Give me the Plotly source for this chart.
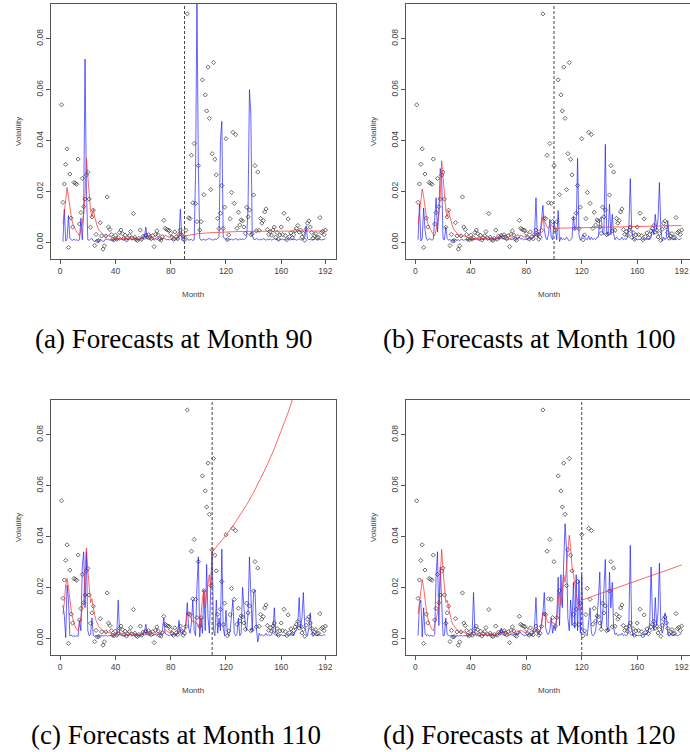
import plotly.graph_objects as go

# ---------------- data ----------------
months = list(range(1, 193))

# observed volatility (black diamonds), months 1..192
observed = [
    0.0540, 0.0157, 0.0229, 0.0306, 0.0367, -0.0020, 0.0268, 0.0095, 0.0060, 0.0235,
    0.0232, 0.0228, 0.0327, 0.0072, 0.0117, 0.0251, 0.0140, 0.0170, 0.0264, 0.0275,
    0.0170, 0.0059, 0.0100, 0.0126, -0.0013, 0.0031, 0.0005, 0.0007, 0.0077, 0.0025,
    -0.0027, -0.0014, 0.0025, 0.0178, 0.0060, 0.0050, 0.0030, 0.0012, 0.0010, 0.0028,
    0.0012, 0.0018, 0.0038, 0.0048, 0.0034, 0.0015, 0.0028, 0.0009, 0.0018, 0.0026,
    0.0042, 0.0016, 0.0113, 0.0020, 0.0010, 0.0007, 0.0015, 0.0048, 0.0012, 0.0024,
    0.0020, 0.0028, 0.0020, 0.0030, 0.0022, 0.0014, 0.0026, -0.0017, 0.0031, 0.0045,
    0.0029, 0.0012, 0.0008, 0.0022, 0.0086, 0.0055, 0.0051, 0.0048, 0.0046, 0.0035,
    0.0020, 0.0012, 0.0041, 0.0022, 0.0014, 0.0031, 0.0048, 0.0030, 0.0012, 0.0020,
    0.0047, 0.0897, 0.0096, 0.0093, 0.0342, 0.0155, 0.0388, 0.0153, 0.0081, 0.0301,
    0.0048, 0.0081, 0.0638, 0.0187, 0.0579, 0.0516, 0.0688, 0.0487, 0.0207, 0.0348,
    0.0706, 0.0326, 0.0265, 0.0094, 0.0054, 0.0114, 0.0223, 0.0054, 0.0138, 0.0407,
    0.0010, 0.0029, 0.0093, 0.0196, 0.0432, 0.0153, 0.0423, 0.0055, 0.0118, 0.0068,
    0.0088, 0.0084, 0.0060, 0.0035, 0.0138, 0.0100, 0.0127, 0.0030, 0.0033, 0.0186,
    0.0301, 0.0045, 0.0276, 0.0047, 0.0094, 0.0075, 0.0085, 0.0119, 0.0131, 0.0050,
    0.0031, 0.0042, 0.0028, 0.0048, 0.0060, 0.0020, 0.0038, 0.0012, 0.0029, 0.0060,
    0.0030, 0.0114, 0.0026, 0.0010, 0.0092, 0.0022, 0.0037, 0.0018, 0.0030, 0.0045,
    0.0055, 0.0066, 0.0040, 0.0048, 0.0021, 0.0035, 0.0008, 0.0051, 0.0075, 0.0084,
    0.0060, 0.0039, 0.0016, 0.0025, 0.0034, 0.0018, 0.0020, 0.0097, 0.0038, 0.0043,
    0.0030, 0.0048,
]

# blue model paths (in units of 0.001), months 2..192
blue_start = 2
blue_a_milli = [
    0.2, 13.0, 0.5, 1.2, 10.5, 1.5, 1.0, 0.8, 1.2, 0.8,
    1.0, 0.7, 1.0, 9.5, 1.0, 12.0, 72.0, 21.0, 1.0, 0.8,
    1.2, 1.5, 0.6, 0.3, 1.0, 0.5, 0.4, 1.2, 0.8, 0.3,
    0.5, 1.5, 1.0, 1.2, 0.8, 1.0, 0.9, 1.1, 1.0, 1.2,
    1.4, 0.9, 1.3, 1.0, 1.1, 1.4, 0.8, 1.2, 1.0, 1.5,
    1.0, 1.3, 1.1, 0.9, 1.2, 1.0, 1.4, 1.1, 1.5, 2.0,
    6.0, 1.5, 1.2, 1.0, 1.4, 1.1, 0.9, 1.3, 1.2, 1.5,
    1.0, 1.2, 1.1, 1.6, 1.3, 1.0, 1.2, 0.9, 1.1, 1.3,
    1.0, 0.8, 1.0, 1.2, 2.0, 13.0, 2.0, 0.8, 0.5, 0.6,
    1.5, 0.8, 1.0, 1.2, 0.7, 1.0, 27.0, 96.0, 30.0, 1.5,
    0.8, 1.0, 1.2, 0.8, 1.0, 1.1, 1.5, 1.2, 0.9, 1.0,
    1.3, 1.1, 1.4, 2.0, 40.0, 47.5, 2.0, 1.5, 1.0, 0.8,
    1.5, 1.0, 1.2, 0.9, 1.1, 1.5, 1.2, 0.8, 1.4, 1.0,
    1.3, 1.1, 1.5, 2.0, 14.0, 60.0, 50.0, 3.0, 1.2, 1.0,
    1.5, 1.1, 0.9, 1.2, 1.0, 1.4, 1.1, 0.8, 1.2, 1.0,
    1.3, 0.9, 1.1, 1.4, 1.0, 1.2, 0.8, 1.1, 1.0, 1.3,
    0.9, 1.2, 1.0, 1.4, 1.1, 0.9, 1.3, 1.0, 1.2, 0.8,
    1.1, 1.3, 1.0, 0.9, 1.2, 2.0, 6.5, 1.5, 1.0, 1.2,
    0.9, 1.1, 1.0, 1.3, 0.8, 1.0, 1.2, 0.9, 1.1, 1.0,
    1.3,
]
blue_b_milli = [
    1.0, 15.0, 0.5, 1.5, 13.5, 5.0, 1.2, 0.8, 1.5, 1.0,
    0.8, 1.2, 12.0, 17.5, 4.0, 12.0, 29.0, 26.0, 1.3, 1.0,
    6.0, 1.5, 0.8, 1.2, 0.6, 1.0, 0.5, 1.2, 0.8, 1.0,
    0.6, 1.2, 1.0, 0.8, 1.1, 0.9, 1.2, 1.0, 1.3, 0.9,
    1.5, 1.1, 1.0, 1.3, 0.8, 1.2, 1.0, 1.4, 1.1, 1.6,
    1.2, 1.0, 1.3, 0.9, 1.2, 1.5, 1.1, 1.4, 1.2, 2.0,
    2.5, 1.5, 1.2, 1.0, 1.3, 1.1, 1.4, 1.0, 1.2, 1.6,
    1.1, 1.3, 1.5, 2.0, 1.2, 1.5, 1.0, 1.3, 1.1, 1.2,
    1.5, 1.0, 1.4, 1.8, 3.0, 17.5, 2.0, 4.0, 3.0, 8.0,
    14.5, 5.0, 2.0, 1.0, 3.0, 9.0, 2.0, 1.0, 8.0, 5.0,
    1.0, 12.5, 0.3, 2.0, 1.0, 1.5, 1.0, 2.0, 1.0, 0.5,
    1.0, 1.5, 10.0, 5.0, 6.0, 33.0, 3.0, 0.8, 2.0, 3.0,
    2.0, 1.5, 1.0, 2.5, 1.0, 2.0, 1.0, 1.5, 1.0, 2.0,
    2.0, 9.0, 10.0, 4.0, 3.0, 38.5, 4.0, 3.0, 15.0, 3.0,
    11.0, 3.0, 1.0, 2.0, 1.5, 1.0, 1.2, 2.0, 1.0, 1.5,
    1.0, 2.0, 6.0, 25.0, 5.0, 2.0, 1.0, 1.5, 1.0, 1.2,
    1.0, 1.5, 1.0, 1.3, 1.0, 1.2, 1.5, 1.0, 2.0, 5.0,
    3.0, 11.0, 5.0, 9.0, 23.5, 6.0, 0.5, 2.0, 1.0, 2.0,
    8.5, 2.0, 1.0, 1.5, 1.0, 1.2, 1.0, 1.5, 1.0, 1.3,
    1.5,
]
blue_c_milli = [
    13.0, 9.0, 0.3, 21.0, 15.0, 1.0, 1.2, 0.8, 1.0, 0.7,
    1.0, 0.8, 7.0, 3.0, 28.0, 34.0, 12.0, 34.0, 3.0, 1.0,
    1.5, 8.0, 1.0, 0.8, 1.2, 0.6, 1.0, 0.7, 1.2, 0.9,
    1.0, 1.2, 0.8, 1.1, 0.9, 1.3, 1.0, 1.2, 1.5, 2.0,
    15.0, 2.0, 1.0, 1.3, 1.1, 0.9, 1.4, 1.0, 1.2, 1.5,
    1.1, 1.3, 1.0, 1.2, 1.5, 1.1, 1.3, 1.0, 1.6, 2.5,
    5.5, 2.0, 1.2, 1.0, 1.4, 1.1, 1.3, 1.5, 1.2, 1.8,
    1.3, 2.0, 3.0, 8.0, 2.0, 1.5, 1.2, 1.0, 1.4, 1.1,
    1.5, 1.2, 1.0, 2.0, 7.0, 2.0, 1.5, 3.0, 2.5, 6.0,
    14.0, 4.0, 2.0, 6.0, 15.0, 3.0, 1.0, 20.0, 32.0, 0.5,
    8.0, 2.0, 19.0, 3.0, 29.0, 8.0, 2.0, 20.0, 34.0, 3.0,
    1.0, 15.0, 2.0, 8.0, 3.0, 35.0, 4.0, 1.0, 11.0, 2.0,
    1.0, 3.0, 8.0, 15.0, 2.0, 1.0, 1.5, 8.0, 1.0, 2.0,
    20.0, 13.0, 5.0, 3.0, 10.0, 32.0, 20.0, 3.0, 18.0, 19.0,
    4.0, -1.5, 2.0, 1.0, 1.5, 1.0, 1.2, 2.0, 1.0, 1.5,
    1.0, 1.3, 3.0, 12.0, 2.0, 1.0, 1.2, 1.0, 1.5, 1.0,
    1.2, 1.0, 1.4, 1.0, 1.1, 1.3, 2.0, 1.0, 2.5, 3.0,
    6.0, 16.0, 4.0, 8.0, 18.0, 5.0, 2.0, 1.0, 4.0, 10.0,
    3.0, 1.0, 1.5, 1.0, 1.2, 1.0, 1.4, 1.0, 1.2, 1.5,
    1.0,
]
blue_d_milli = [
    1.0, 13.0, 15.0, 0.5, 12.0, 2.0, 1.0, 1.5, 0.8, 1.2,
    1.0, 0.8, 1.5, 25.0, 34.0, 5.0, 28.0, 14.0, 1.0, 1.2,
    8.0, 1.5, 1.0, 0.8, 1.2, 0.6, 1.0, 0.7, 1.2, 0.9,
    1.0, 1.2, 0.8, 1.1, 0.9, 1.3, 1.0, 1.2, 1.5, 2.0,
    18.0, 2.0, 1.0, 1.3, 1.1, 0.9, 1.4, 1.0, 1.2, 1.5,
    1.1, 1.3, 1.0, 1.2, 1.5, 1.1, 1.3, 1.0, 1.6, 2.0,
    4.0, 2.0, 1.2, 1.0, 1.4, 1.1, 1.3, 1.5, 1.2, 1.8,
    1.3, 2.0, 1.5, 3.0, 2.0, 1.5, 1.2, 1.0, 1.4, 1.1,
    1.5, 1.2, 1.0, 2.0, 5.0, 16.0, 2.0, 1.5, 3.0, 6.0,
    10.0, 18.0, 4.0, 2.0, 1.5, 3.0, 8.0, 2.0, 5.0, 3.0,
    8.0, 24.0, 5.0, 25.0, 12.0, 30.0, 45.0, 35.0, 8.0, 3.0,
    15.0, 5.0, 22.0, 4.0, 25.0, 3.0, 23.0, 2.0, 25.0, 3.0,
    2.0, 1.5, 1.0, 6.0, 12.0, 2.0, 1.0, 1.5, 3.0, 8.0,
    15.0, 26.0, 4.0, 8.0, 20.0, 31.0, 5.0, 3.0, 26.0, 12.0,
    22.0, 4.0, 1.5, 2.0, 1.0, 1.5, 1.2, 2.0, 1.0, 1.5,
    1.0, 1.3, 6.0, 36.5, 4.0, 1.0, 1.5, 1.0, 1.2, 1.0,
    1.3, 1.0, 1.5, 1.2, 2.0, 1.5, 3.0, 6.0, 28.0, 8.0,
    3.0, 16.0, 5.0, 10.0, 29.5, 6.0, 2.0, 4.0, 10.0, 8.0,
    2.0, 1.0, 1.5, 1.2, 1.0, 1.5, 1.3, 1.0, 1.2, 1.5,
    2.0,
]

# red fitted values (units of 0.001), months 2..origin
red_start = 2
red_fit_a_milli = [
    7.0, 12.0, 18.0, 21.5, 18.0, 13.0, 10.0, 7.5, 6.0, 5.0,
    4.0, 3.0, 2.5, 5.0, 8.0, 11.0, 18.0, 33.0, 26.0, 17.0,
    12.5, 10.0, 13.0, 10.0, 7.5, 6.0, 4.8, 4.2, 3.6, 3.0,
    2.6, 2.4, 2.5, 2.6, 2.3, 2.1, 1.8, 1.6, 1.5, 1.5,
    1.4, 1.5, 1.7, 1.8, 1.6, 1.5, 1.4, 1.3, 1.4, 1.5,
    1.4, 2.0, 1.8, 1.5, 1.4, 1.3, 1.6, 1.5, 2.2, 2.8,
    3.2, 2.5, 2.0, 2.3, 2.0, 1.7, 1.5, 1.6, 1.9, 2.2,
    1.9, 1.6, 1.5, 2.2, 2.8, 2.5, 2.3, 2.0, 2.8, 2.2,
    1.8, 2.0, 1.7, 1.9, 2.8, 3.8, 3.2, 2.7, 2.5,
]
red_fit_b_milli = [
    7.0, 12.0, 18.0, 21.0, 18.0, 13.0, 10.0, 7.5, 6.0, 5.0,
    4.0, 3.0, 2.5, 5.0, 8.0, 11.0, 18.0, 32.0, 26.0, 17.0,
    12.5, 10.0, 12.5, 10.0, 7.5, 6.0, 4.8, 4.2, 3.6, 3.0,
    2.6, 2.4, 2.5, 2.6, 2.3, 2.1, 1.8, 1.6, 1.5, 1.5,
    1.4, 1.5, 1.7, 1.8, 1.6, 1.5, 1.4, 1.3, 1.4, 1.5,
    1.4, 2.0, 1.8, 1.5, 1.4, 1.3, 1.6, 1.5, 2.2, 2.8,
    3.0, 2.5, 2.0, 2.3, 2.0, 1.7, 1.5, 1.6, 1.9, 2.2,
    1.9, 1.6, 1.5, 2.2, 2.8, 2.5, 2.3, 2.0, 2.8, 2.2,
    1.8, 2.0, 1.7, 1.9, 2.8, 3.5, 3.0, 3.2, 4.0, 7.0,
    9.5, 8.5, 7.0, 6.0, 5.5, 6.5, 7.0, 6.0, 5.5,
]
red_fit_c_milli = [
    9.5, 14.0, 21.0, 23.5, 20.0, 15.0, 11.0, 8.0, 6.0, 4.5,
    3.5, 3.0, 6.0, 8.0, 12.0, 14.0, 27.0, 35.5, 27.0, 20.0,
    14.0, 15.5, 12.0, 9.0, 7.0, 5.5, 4.5, 4.0, 3.5, 3.0,
    2.5, 2.3, 2.5, 2.4, 2.1, 1.9, 1.7, 1.6, 1.5, 1.6,
    2.2, 2.5, 2.0, 1.8, 1.6, 1.5, 1.4, 1.4, 1.5, 1.6,
    1.5, 2.0, 1.8, 1.6, 1.5, 1.4, 1.7, 1.6, 2.3, 2.9,
    3.3, 2.6, 2.2, 2.4, 2.1, 1.8, 1.6, 1.7, 2.0, 2.3,
    2.0, 1.7, 1.8, 2.6, 3.4, 3.0, 2.6, 2.2, 2.5, 2.1,
    1.8, 2.0, 1.8, 2.0, 2.6, 3.5, 3.0, 2.8, 3.2, 5.0,
    10.5, 9.5, 8.0, 7.0, 6.5, 6.5, 6.0, 6.0, 5.0, 3.5,
    9.5, 16.0, 18.5, 12.0, 18.0, 22.0, 25.0, 20.0, 35.0,
]
red_fit_d_milli = [
    9.5, 14.0, 20.0, 23.0, 20.0, 15.0, 11.0, 8.0, 6.0, 4.5,
    3.5, 3.0, 5.0, 7.0, 10.0, 13.0, 26.0, 35.0, 27.0, 20.0,
    14.0, 15.0, 12.0, 9.0, 7.0, 5.5, 4.5, 4.0, 3.5, 3.0,
    2.6, 2.4, 2.6, 2.4, 2.1, 1.9, 1.7, 1.6, 1.5, 1.7,
    2.4, 2.6, 2.1, 1.8, 1.6, 1.5, 1.4, 1.4, 1.5, 1.6,
    1.5, 2.0, 1.8, 1.6, 1.5, 1.4, 1.7, 1.6, 2.2, 2.7,
    3.0, 2.5, 2.2, 2.4, 2.1, 1.8, 1.6, 1.7, 2.0, 2.3,
    2.0, 1.7, 1.8, 2.5, 3.2, 2.9, 2.6, 2.2, 2.5, 2.1,
    1.8, 2.0, 1.8, 2.0, 2.5, 3.2, 3.0, 2.8, 3.0, 5.0,
    10.0, 9.5, 9.0, 7.0, 6.0, 6.5, 7.0, 6.0, 6.0, 5.0,
    8.0, 15.0, 18.0, 13.0, 20.0, 25.0, 22.0, 28.0, 33.0, 40.5,
    36.0, 28.0, 25.0, 20.0, 17.0, 15.0, 12.0, 11.0, 12.5,
]

# red forecasts after the origin (units of 0.001)
fc_a_months = [90, 95, 100, 110, 120, 130, 150, 170, 192]
fc_a_milli = [2.5, 3.0, 3.4, 3.8, 4.05, 4.25, 4.35, 4.4, 4.45]
fc_b_months = [100, 120, 140, 160, 192]
fc_b_milli = [5.5, 5.8, 6.1, 6.4, 6.6]
fc_c_months = [110, 115, 120, 125, 130, 135, 140, 145, 150, 155, 160, 165, 170, 175]
fc_c_milli = [34.0, 37.0, 40.4, 44.1, 48.1, 52.5, 57.3, 62.5, 68.2, 74.5, 81.3, 88.7, 96.8, 105.6]
fc_d_months = [120, 192]
fc_d_milli = [15.0, 28.8]

origins = [90, 100, 110, 120]
captions = ["(a) Forecasts at Month 90", "(b) Forecasts at Month 100",
            "(c) Forecasts at Month 110", "(d) Forecasts at Month 120"]
x_tick_vals = [0, 40, 80, 120, 160, 192]
y_tick_vals = [0.0, 0.02, 0.04, 0.06, 0.08]
y_tick_text = ["0.00", "0.02", "0.04", "0.06", "0.08"]

blues = [blue_a_milli, blue_b_milli, blue_c_milli, blue_d_milli]
red_fits = [red_fit_a_milli, red_fit_b_milli, red_fit_c_milli, red_fit_d_milli]
fc_months = [fc_a_months, fc_b_months, fc_c_months, fc_d_months]
fc_vals = [fc_a_milli, fc_b_milli, fc_c_milli, fc_d_milli]

# ---------------- layout geometry (pixels) ----------------
W, H = 690, 752
panels = [
    dict(left=51, right=336, top=4, bottom=259, xr=[-6.64, 199.64]),
    dict(left=406, right=690, top=4, bottom=259, xr=[-6.7, 198.05]),
    dict(left=51, right=336, top=400, bottom=655, xr=[-6.64, 199.64]),
    dict(left=406, right=690, top=400, bottom=655, xr=[-6.7, 198.05]),
]
y_range = [-0.00656, 0.0936]
ylab_pos = [(18.3, 131.7), (373.3, 131.7), (18.3, 527.7), (373.3, 527.7)]
xlab_pos = [(193, 294.7), (549.3, 294.7), (193, 690.7), (549.3, 690.7)]
cap_pos = [(33, 339), (381, 339), (29, 735), (381, 735)]

AX = "#555555"
TICKFONT = dict(family="Liberation Sans, Arial, sans-serif", size=8.5, color="#444444")

fig = go.Figure()
layout = dict(width=W, height=H, margin=dict(l=0, r=0, t=0, b=0),
              paper_bgcolor="white", plot_bgcolor="white", showlegend=False)
shapes, annotations = [], []

for i in range(4):
    n = i + 1
    xa, ya = ("x" if n == 1 else f"x{n}"), ("y" if n == 1 else f"y{n}")
    p = panels[i]

    fig.add_trace(go.Scatter(
        x=months, y=observed, mode="markers", xaxis=xa, yaxis=ya,
        marker=dict(symbol="diamond-open", size=3.2, color="rgba(60,60,60,0.85)",
                    line=dict(width=0.9)),
        hoverinfo="skip"))

    b = blues[i]
    fig.add_trace(go.Scatter(
        x=list(range(blue_start, blue_start + len(b))), y=[v / 1000 for v in b],
        mode="lines", xaxis=xa, yaxis=ya,
        line=dict(color="rgba(20,20,255,0.65)", width=1), hoverinfo="skip"))

    r = red_fits[i]
    fig.add_trace(go.Scatter(
        x=list(range(red_start, red_start + len(r))), y=[v / 1000 for v in r],
        mode="lines", xaxis=xa, yaxis=ya,
        line=dict(color="rgba(255,40,40,0.7)", width=1), hoverinfo="skip"))
    fig.add_trace(go.Scatter(
        x=fc_months[i], y=[v / 1000 for v in fc_vals[i]],
        mode="lines", xaxis=xa, yaxis=ya,
        line=dict(color="rgba(255,40,40,0.7)", width=1), hoverinfo="skip"))

    axis_common = dict(showgrid=False, zeroline=False, showline=True, mirror=True,
                       linecolor=AX, linewidth=1, ticks="outside", ticklen=4,
                       tickcolor=AX, tickwidth=1, tickfont=TICKFONT)
    layout["xaxis" if n == 1 else f"xaxis{n}"] = dict(
        domain=[p["left"] / W, p["right"] / W], range=p["xr"], anchor=ya,
        tickmode="array", tickvals=x_tick_vals, **axis_common)
    layout["yaxis" if n == 1 else f"yaxis{n}"] = dict(
        domain=[1 - p["bottom"] / H, 1 - p["top"] / H], range=y_range, anchor=xa,
        tickmode="array", tickvals=y_tick_vals, ticktext=y_tick_text,
        tickangle=-90, **axis_common)

    shapes.append(dict(type="line", xref=xa, yref=f"{ya} domain",
                       x0=origins[i], x1=origins[i], y0=0, y1=1,
                       line=dict(color="#444444", width=1, dash="3px,2px")))

    lx, ly = ylab_pos[i]
    annotations.append(dict(text="Volatility", xref="paper", yref="paper",
                            x=lx / W, y=1 - ly / H, showarrow=False, textangle=-90,
                            xanchor="center", yanchor="middle",
                            font=dict(family="Liberation Sans, Arial, sans-serif",
                                      size=8, color="#444444")))
    mx, my = xlab_pos[i]
    annotations.append(dict(text="Month", xref="paper", yref="paper",
                            x=mx / W, y=1 - my / H, showarrow=False,
                            xanchor="center", yanchor="middle",
                            font=dict(family="Liberation Sans, Arial, sans-serif",
                                      size=8, color="#444444")))
    cx, cy = cap_pos[i]
    annotations.append(dict(text=captions[i], xref="paper", yref="paper",
                            x=cx / W, y=1 - cy / H, showarrow=False,
                            xanchor="left", yanchor="middle",
                            font=dict(family="Liberation Serif, Times New Roman, serif",
                                      size=27, color="black")))

layout["shapes"] = shapes
layout["annotations"] = annotations
fig.update_layout(**layout)
fig.write_html("out.html")
